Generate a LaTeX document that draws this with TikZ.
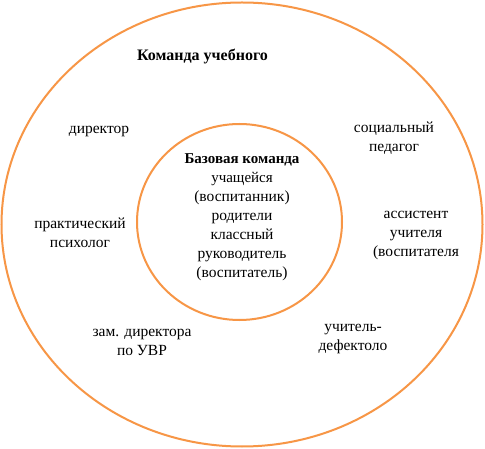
\documentclass[tikz,border=0pt]{standalone}
\usepackage{fontspec}
\setmainfont{Liberation Serif}
\definecolor{ring}{HTML}{F79646}
\begin{document}
\begin{tikzpicture}[x=1pt,y=-1pt,
  ringline/.style={draw=ring,line width=2pt},
  lbl/.style={align=center,inner sep=0pt,font=\fontsize{15.5}{19}\selectfont}]
\useasboundingbox[fill=white] (0,0) rectangle (485,449);
\draw[ringline] (242,224.5) ellipse [x radius=240.5, y radius=222];
\draw[ringline] (239.5,222) ellipse [x radius=102.5, y radius=98];
\node[lbl] (title) at (202.5,57) {\fontsize{16}{19}\selectfont\bfseries Команда учебного};
\node[lbl] (base) at (242,217.5) {\fontsize{15}{16.8}\selectfont\bfseries Базовая команда\\
  \fontsize{15}{16.8}\selectfont учащейся\\(воспитанник)\\родители\\классный\\руководитель\\(воспитатель)};
\node[lbl] (dir) at (99,131) {директор};
\node[lbl] (soc) at (394,138) {\fontsize{15.5}{18}\selectfont социальный\\педагог};
\node[lbl] (psy) at (80,233) {\fontsize{15.5}{20}\selectfont практический\\психолог};
\node[lbl] (ass) at (416,235) {\fontsize{15.5}{18}\selectfont ассистент\\учителя\\(воспитателя};
\node[lbl] (zam) at (142,342) {\fontsize{15.5}{20}\selectfont зам. директора\\по УВР};
\node[lbl] (def) at (353,338.5) {\fontsize{15.5}{17}\selectfont учитель-\\дефектоло};
\end{tikzpicture}
\end{document}
